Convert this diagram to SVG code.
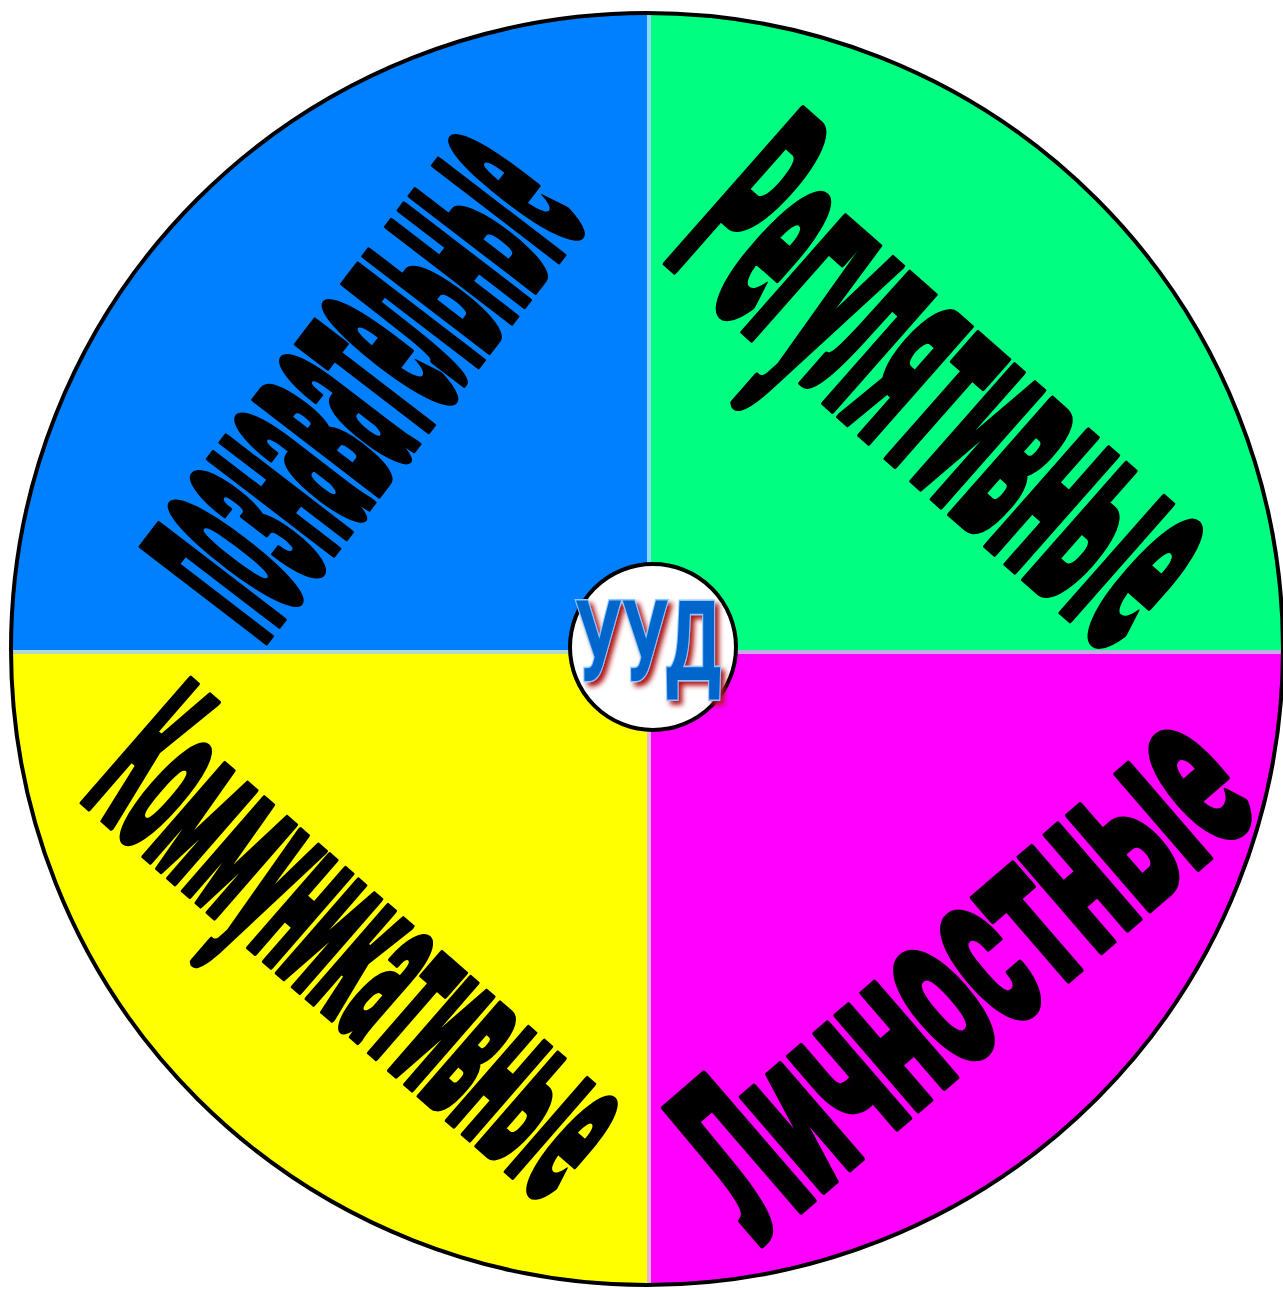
<svg xmlns="http://www.w3.org/2000/svg" width="1283" height="1290" viewBox="0 0 1283 1290">
  <defs>
    <clipPath id="disc"><circle cx="647" cy="649" r="636"/></clipPath>
    <filter id="shadow" x="-20%" y="-20%" width="150%" height="150%">
      <feGaussianBlur in="SourceAlpha" stdDeviation="2.5" result="b"/>
      <feOffset in="b" dx="4" dy="4" result="o"/>
      <feFlood flood-color="#B01818"/>
      <feComposite in2="o" operator="in" result="s"/>
      <feMerge><feMergeNode in="s"/><feMergeNode in="SourceGraphic"/></feMerge>
    </filter>
  </defs>
  <style>
    .word { font-family: Roboto, "DejaVu Sans", sans-serif; font-weight: 900; font-size: 100px; fill: #000; stroke: #000; stroke-width: 5px; stroke-linejoin: round; vector-effect: non-scaling-stroke; }
    .uud { font-family: Roboto, "DejaVu Sans", sans-serif; font-weight: 700; font-size: 112px; fill: #0066CC; stroke: #8EC6FF; stroke-width: 3px; paint-order: stroke; }
  </style>
  <rect width="1283" height="1290" fill="#fff"/>
  <g id="wheel" clip-path="url(#disc)">
    <rect x="0" y="0" width="649" height="652" fill="#0080FF"/>
    <rect x="649" y="0" width="640" height="652" fill="#00FF80"/>
    <rect x="0" y="652" width="649" height="640" fill="#FFFF00"/>
    <rect x="649" y="652" width="640" height="640" fill="#FF00FF"/>
    <line x1="649" y1="0" x2="649" y2="652" stroke="#8CD8FF" stroke-width="4"/>
    <line x1="649" y1="652" x2="649" y2="1290" stroke="#E8B0D8" stroke-width="4"/>
    <line x1="0" y1="652" x2="649" y2="652" stroke="#B8D8C8" stroke-width="4"/>
    <line x1="649" y1="652" x2="1283" y2="652" stroke="#C8A8E8" stroke-width="4"/>
  </g>
  <circle cx="647" cy="649" r="636" fill="none" stroke="#000" stroke-width="4"/>

  <g id="node-poznavatelnye" transform="translate(364,386) rotate(-52.5)">
    <text class="word" x="0" y="26.4" text-anchor="middle" textLength="535" lengthAdjust="spacingAndGlyphs" transform="scale(1,2.95)">познавательные</text>
  </g>
  <g id="node-regulyativnye" transform="translate(937,400) rotate(41.4)">
    <text class="word" x="0" y="26.4" text-anchor="middle" textLength="600" lengthAdjust="spacingAndGlyphs" transform="scale(1,2.9)">Регулятивные</text>
  </g>
  <g id="node-kommunikativnye" transform="translate(352,956) rotate(41)">
    <text class="word" x="0" y="26.4" text-anchor="middle" textLength="618" lengthAdjust="spacingAndGlyphs" transform="scale(1,2.3)">Коммуникативные</text>
  </g>
  <g id="node-lichnostnye" transform="translate(970,983) rotate(-40.8)">
    <text class="word" x="0" y="26.4" text-anchor="middle" textLength="664" lengthAdjust="spacingAndGlyphs" transform="scale(1,2.35)">Личностные</text>
  </g>

  <g id="node-uud">
    <circle cx="653" cy="647" r="83" fill="#fff" stroke="#000" stroke-width="4"/>
    <text class="uud" x="648" y="680" text-anchor="middle" textLength="146" lengthAdjust="spacingAndGlyphs" filter="url(#shadow)">УУД</text>
  </g>
</svg>
